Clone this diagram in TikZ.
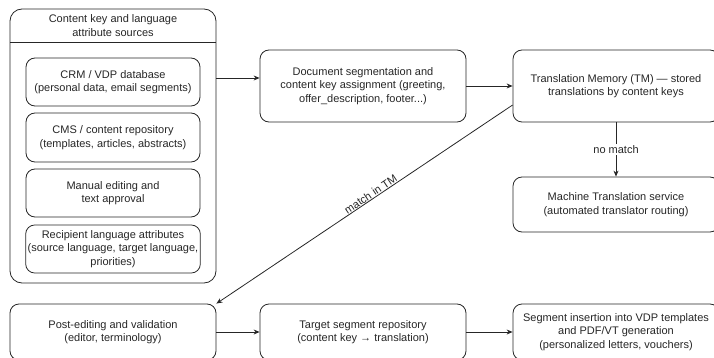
\documentclass[tikz,border=0pt]{standalone}
\usepackage{fontspec}
\setmainfont{Liberation Sans}
\usetikzlibrary{arrows.meta}
\begin{document}
\begin{tikzpicture}[x=1pt,y=-1pt,
  box/.style={draw=black!85, line width=0.8pt, rounded corners=9pt, align=center,
    font=\fontsize{11}{13.5}\selectfont, text=black!85, inner sep=2pt},
  arr/.style={draw=black!85, line width=0.8pt, -{Stealth[length=6pt,width=5pt]}},
  lbl/.style={font=\fontsize{11}{13.5}\selectfont, text=black!85}]
\useasboundingbox (0,0) rectangle (714,358);
\clip (0,0) rectangle (714,358);
% container
\node[box, rounded corners=12pt, minimum width=206pt, minimum height=274pt] (cont) at (113,146) {};
\coordinate (hl) at (10,42);
\coordinate (hr) at (216,42);
\draw[draw=black!85, line width=0.8pt] (hl) -- (hr);
\node[lbl, align=center] (conthead) at (113,25.5) {Content key and language\\attribute sources};
% inner boxes
\node[box, minimum width=174pt, minimum height=48pt] (crm) at (113,82) {CRM / VDP database\\(personal data, email segments)};
\node[box, minimum width=174pt, minimum height=49pt] (cms) at (113,137.5) {CMS / content repository\\(templates, articles, abstracts)};
\node[box, minimum width=174pt, minimum height=48pt] (man) at (113,193) {Manual editing and\\text approval};
\node[box, minimum width=174pt, minimum height=48pt] (rec) at (113,249) {Recipient language attributes\\(source language, target language,\\priorities)};
% main boxes
\node[box, minimum width=206pt, minimum height=72pt] (doc) at (363,86) {Document segmentation and\\content key assignment (greeting,\\offer\_description, footer...)};
\node[box, minimum width=206pt, minimum height=72pt] (tm) at (616,86) {Translation Memory (TM) — stored\\translations by content keys};
\node[box, minimum width=206pt, minimum height=55pt] (mt) at (616,204.5) {Machine Translation service\\(automated translator routing)};
\node[box, minimum width=206pt, minimum height=56pt] (post) at (113,332) {Post-editing and validation\\(editor, terminology)};
\node[box, minimum width=206pt, minimum height=56pt] (tgt) at (363,332) {Target segment repository\\(content key → translation)};
\node[box, minimum width=206pt, minimum height=56pt] (ins) at (616,332) {Segment insertion into VDP templates\\and PDF/VT generation\\(personalized letters, vouchers)};
% connectors
\coordinate (ya) at (0,78);
\coordinate (yb) at (0,105);
\draw[arr] (cont.east |- ya) -- (doc.west |- ya);
\draw[arr] (doc.east) -- (tm.west);
\draw[arr] (tm.south) -- node[lbl, fill=white, inner sep=1.5pt] (nm) {no match} (mt.north);
\draw[arr] (tm.west |- yb) -- node[lbl, sloped, above, pos=0.47, inner sep=0.5pt] (mtm) {match in TM} (post.north east);
\draw[arr] (post.east) -- (tgt.west);
\draw[arr] (tgt.east) -- (ins.west);
\end{tikzpicture}
\end{document}
